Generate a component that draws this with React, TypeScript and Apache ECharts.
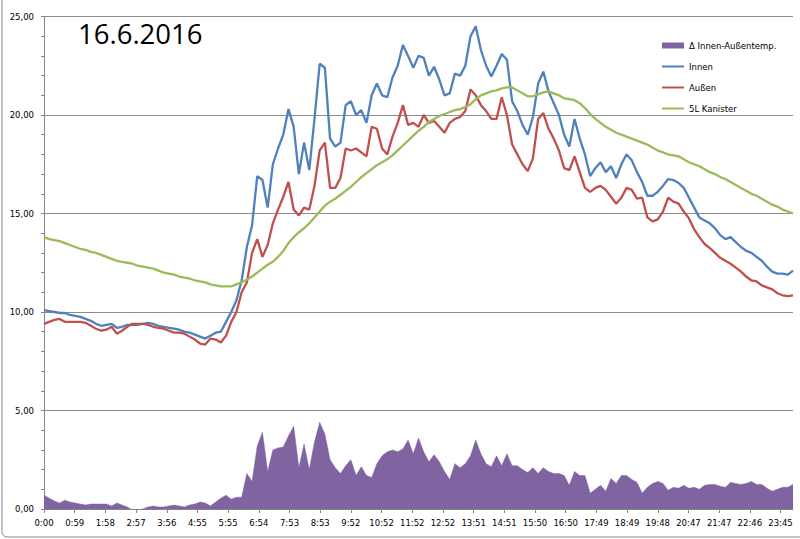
import React, { useEffect, useRef } from "react";
import * as echarts from "echarts";

// time index step between samples (x-axis units; one tick label every 59 units)
const SAMPLE_STEP = 10;
const TICK_STEP = 59;

const tickLabels = [
  "0:00", "0:59", "1:58", "2:57", "3:56", "4:55", "5:55", "6:54", "7:53", "8:53",
  "9:52", "10:52", "11:52", "12:52", "13:51", "14:51", "15:50", "16:50", "17:49",
  "18:49", "19:48", "20:47", "21:47", "22:46", "23:45",
];

const innen = [
  10.1, 10.05, 10.0, 9.95, 9.95, 9.85, 9.8, 9.75, 9.65, 9.55,
  9.4, 9.3, 9.35, 9.4, 9.2, 9.25, 9.35, 9.35, 9.35, 9.4,
  9.45, 9.4, 9.3, 9.25, 9.2, 9.15, 9.1, 9.0, 8.95, 8.85,
  8.75, 8.65, 8.8, 8.95, 9.0, 9.5, 10.0, 10.6, 11.6, 13.3,
  14.4, 16.9, 16.7, 15.3, 17.5, 18.3, 19.0, 20.3, 19.4, 17.0,
  18.6, 17.2, 19.8, 22.6, 22.4, 18.8, 18.4, 18.6, 20.5, 20.7,
  20.0, 20.25, 19.6, 21.0, 21.6, 21.0, 20.9, 21.9, 22.5, 23.55,
  23.0, 22.4, 23.0, 22.9, 22.0, 22.45, 21.8, 21.0, 21.1, 22.1,
  22.0, 22.5, 24.0, 24.5, 23.3, 22.5, 21.95, 22.5, 23.1, 22.8,
  20.7, 20.2, 19.5, 19.0, 19.9, 21.6, 22.2, 21.2, 20.6, 20.0,
  19.0, 18.4, 19.8, 18.8, 18.0, 16.9, 17.3, 17.6, 17.1, 17.4,
  16.8, 17.5, 18.0, 17.7, 17.1, 16.6, 15.9, 15.9, 16.1, 16.4,
  16.75, 16.7, 16.55, 16.3, 15.8, 15.3, 14.8, 14.65, 14.5, 14.25,
  13.9, 13.7, 13.8, 13.55, 13.3, 13.1, 13.0, 12.8, 12.6, 12.3,
  12.05, 11.95, 11.95, 11.9, 12.1,
];

const aussen = [
  9.4, 9.5, 9.6, 9.65, 9.5, 9.5, 9.5, 9.5, 9.45, 9.3,
  9.15, 9.05, 9.1, 9.25, 8.9, 9.05, 9.25, 9.4, 9.4, 9.4,
  9.35, 9.25, 9.2, 9.15, 9.05, 8.95, 8.95, 8.9, 8.75, 8.6,
  8.4, 8.35, 8.65, 8.6, 8.45, 8.8, 9.5, 10.0, 11.0, 11.5,
  13.0, 13.7, 12.8, 13.4, 14.5, 15.2, 15.85, 16.6, 15.2, 14.9,
  15.3, 15.2, 16.4, 18.2, 18.6, 16.3, 16.3, 16.8, 18.3, 18.2,
  18.3, 18.1, 17.9, 19.4, 19.3, 18.3, 18.0, 18.9, 19.6, 20.5,
  19.5, 19.6, 19.4, 20.0, 19.6, 19.7, 19.4, 19.1, 19.6, 19.8,
  19.9, 20.2, 21.3, 21.0, 20.5, 20.2, 19.8, 19.8, 20.9, 20.0,
  18.5, 18.0, 17.5, 17.15, 17.8, 19.8, 20.1, 19.3, 18.8, 18.2,
  17.3, 17.2, 17.9, 17.1, 16.3, 16.1, 16.3, 16.4, 16.2, 15.85,
  15.5, 15.8, 16.3, 16.2, 15.75, 15.8, 14.8, 14.6, 14.7, 15.1,
  15.8, 15.6, 15.5, 15.1, 14.75, 14.2, 13.8, 13.45, 13.25, 13.0,
  12.75, 12.6, 12.45, 12.25, 12.05, 11.8, 11.6, 11.55, 11.35, 11.25,
  11.15, 10.95, 10.85, 10.8, 10.85,
];

const kanister = [
  13.8, 13.7, 13.65, 13.6, 13.5, 13.4, 13.3, 13.2, 13.15, 13.05,
  13.0, 12.9, 12.8, 12.7, 12.6, 12.55, 12.5, 12.45, 12.35, 12.3,
  12.25, 12.2, 12.1, 12.0, 11.95, 11.9, 11.8, 11.75, 11.7, 11.6,
  11.55, 11.5, 11.4, 11.35, 11.3, 11.3, 11.3, 11.4, 11.5, 11.65,
  11.8, 12.0, 12.2, 12.4, 12.55, 12.8, 13.1, 13.5, 13.8, 14.05,
  14.25, 14.5, 14.8, 15.1, 15.4, 15.6, 15.75, 15.95, 16.15, 16.35,
  16.6, 16.85, 17.05, 17.25, 17.45, 17.6, 17.75, 17.95, 18.2, 18.45,
  18.7, 18.95, 19.2, 19.4, 19.65, 19.8, 19.95, 20.05, 20.15, 20.25,
  20.3, 20.4, 20.55, 20.8, 21.0, 21.1, 21.2, 21.25, 21.35, 21.4,
  21.4, 21.25, 21.1, 20.95, 20.95, 21.05, 21.15, 21.2, 21.1, 21.0,
  20.85, 20.8, 20.75, 20.6, 20.35, 20.05, 19.8, 19.6, 19.4, 19.25,
  19.1, 19.0, 18.9, 18.8, 18.7, 18.6, 18.5, 18.35, 18.2, 18.1,
  18.0, 17.95, 17.9, 17.75, 17.6, 17.5, 17.4, 17.25, 17.1, 17.0,
  16.85, 16.75, 16.6, 16.45, 16.3, 16.15, 16.0, 15.9, 15.75, 15.6,
  15.45, 15.35, 15.2, 15.1, 15.0,
];

const DELTA_NAME = "\u0394 Innen-Au\u00dfentemp.";
const seriesNames = [DELTA_NAME, "Innen", "Au\u00dfen", "5L Kanister"];
const colors = ["#8064A2", "#4F81BD", "#C0504D", "#9BBB59"];
const titleText = "16.6.2016";

const X_MAX = 1440;
const FONT = "DejaVu Sans";

export default function App() {
  const ref = useRef<HTMLDivElement>(null);

  useEffect(() => {
    if (!ref.current) return;
    const chart = echarts.init(ref.current, null, { renderer: "svg" });

    const toPairs = (arr: number[]) => arr.map((v, i) => [i * SAMPLE_STEP, v]);
    const delta = innen.map((v, i) => [i * SAMPLE_STEP, +(v - aussen[i]).toFixed(2)]);
    const tickPos = tickLabels.map((_, i) => i * TICK_STEP);

    const lineSeries = (name: string, data: number[][], color: string) => ({
      name,
      type: "line",
      data,
      symbol: "none",
      showSymbol: false,
      smooth: false,
      itemStyle: { color },
      lineStyle: { color, width: 2.3 },
      emphasis: { disabled: true },
    });

    chart.setOption({
      animation: false,
      backgroundColor: "#ffffff",
      grid: { left: 44, right: 7, top: 16.5, bottom: 30, containLabel: false },
      legend: {
        orient: "vertical",
        left: 656,
        top: 36,
        itemWidth: 22,
        itemHeight: 6,
        itemGap: 12,
        textStyle: { fontSize: 8.5, fontFamily: FONT, color: "#000" },
        data: [
          { name: seriesNames[0], icon: "rect" },
          { name: seriesNames[1], itemStyle: { opacity: 0 } },
          { name: seriesNames[2], itemStyle: { opacity: 0 } },
          { name: seriesNames[3], itemStyle: { opacity: 0 } },
        ],
      },
      xAxis: {
        type: "value",
        min: 0,
        max: X_MAX,
        interval: TICK_STEP,
        axisLine: { show: true, lineStyle: { color: "#868686", width: 1 } },
        axisTick: {
          show: true,
          length: 4,
          lineStyle: { color: "#868686" },
          customValues: tickPos,
        },
        axisLabel: {
          customValues: tickPos,
          margin: 9,
          fontSize: 8.5,
          fontFamily: FONT,
          color: "#000",
          formatter: (v: number) => {
            if (v % TICK_STEP !== 0) return "";
            const idx = v / TICK_STEP;
            return tickLabels[idx] ?? "";
          },
        },
        splitLine: { show: false },
      },
      yAxis: {
        type: "value",
        min: 0,
        max: 25,
        interval: 5,
        axisLine: { show: true, lineStyle: { color: "#868686", width: 1 } },
        axisTick: { show: true, length: 3, lineStyle: { color: "#868686" } },
        minorTick: { show: true, splitNumber: 5, length: 3, lineStyle: { color: "#868686" } },
        splitLine: { show: true, lineStyle: { color: "#8c8c8c", width: 1 } },
        axisLabel: {
          margin: 10,
          fontSize: 8.5,
          fontFamily: FONT,
          color: "#000",
          formatter: (v: number) => v.toFixed(2).replace(".", ","),
        },
      },
      graphic: [
        {
          type: "rect",
          silent: true,
          shape: { x: 2, y: -10, width: 830, height: 547, r: 5 },
          style: { fill: "none", stroke: "#868686", lineWidth: 1 },
        },
        {
          type: "text",
          x: 78,
          y: 33,
          style: {
            text: titleText,
            fontSize: 27.5,
            fontFamily: "Open Sans",
            fill: "#000",
            verticalAlign: "middle",
            align: "left",
          },
        },
      ],
      series: [
        {
          name: seriesNames[0],
          type: "line",
          data: delta,
          symbol: "none",
          showSymbol: false,
          itemStyle: { color: colors[0] },
          lineStyle: { color: colors[0], width: 0.5 },
          areaStyle: { color: colors[0], opacity: 1 },
          emphasis: { disabled: true },
          z: 1,
        },
        { ...lineSeries(seriesNames[1], toPairs(innen), colors[1]), z: 2 },
        { ...lineSeries(seriesNames[2], toPairs(aussen), colors[2]), z: 3 },
        { ...lineSeries(seriesNames[3], toPairs(kanister), colors[3]), z: 4 },
      ],
    });

    return () => chart.dispose();
  }, []);

  return (
    <div
      ref={ref}
      style={{ position: "fixed", left: 0, top: 0, width: 800, height: 539, background: "#fff" }}
    />
  );
}
